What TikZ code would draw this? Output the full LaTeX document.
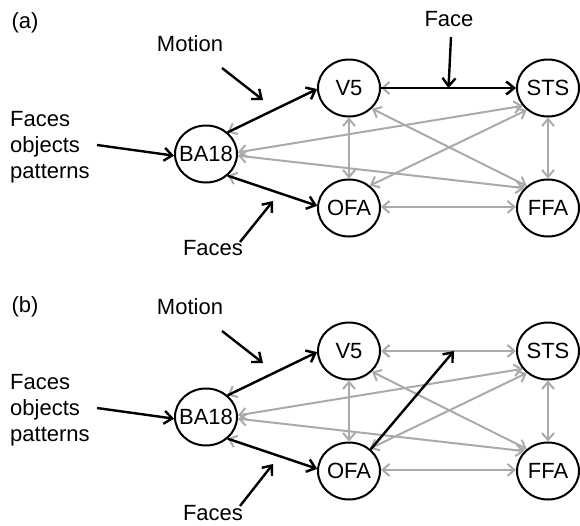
\documentclass[tikz,border=0pt]{standalone}
\usepackage{fontspec}
\setmainfont{Liberation Sans}
\usetikzlibrary{arrows.meta,shapes.geometric,calc}
\definecolor{linegray}{HTML}{AAAAAA}
\begin{document}
\begin{tikzpicture}[x=1pt,y=-1pt,
  every node/.style={font=\fontsize{22}{26}\selectfont},
  region/.style={ellipse,draw=black,line width=2pt,fill=white,minimum width=62pt,minimum height=57pt,inner sep=0pt},
  graylink/.style={draw=linegray,line width=2pt,{Straight Barb[length=7pt,width=12pt]}-{Straight Barb[length=7pt,width=12pt]}},
  blacklink/.style={draw=black,line width=2.4pt,-{Straight Barb[length=8pt,width=13pt]}},
  lbl/.style={inner sep=0pt}]
\useasboundingbox (0,0) rectangle (580,525);

% ---------------- panel (a) ----------------
\node[region] (BA18a) at (206,154) {\makebox[0pt]{BA18}};
\node[region] (V5a) at (349,88) {\makebox[0pt]{V5}};
\node[region] (STSa) at (548,88) {\makebox[0pt]{STS}};
\node[region] (OFAa) at (349,208) {\makebox[0pt]{OFA}};
\node[region] (FFAa) at (548,208) {\makebox[0pt]{FFA}};

\node[lbl] (la) at (25,23) {(a)};
\node[lbl] (motiona) at (190,44) {Motion};
\node[lbl] (facea) at (449,19) {Face};
\node[lbl,anchor=west,align=left] (inputa) at (10,147) {Faces\\objects\\patterns};
\node[lbl] (facesa) at (213,248) {Faces};

\coordinate (ms_a) at (222,68);
\coordinate (mt_a) at (263,100);
\coordinate (fs_a) at (240,242);
\coordinate (ft_a) at (273,201);
\coordinate (is_a) at (97,145);
\coordinate (fcs_a) at (451,37);
\coordinate (fct_a) at ($(V5a.east)!0.5!(STSa.west)$);

\draw[graylink] (BA18a.45) -- (V5a.182);
\draw[graylink] (BA18a.-45) -- (OFAa.176);
\draw[graylink] (BA18a.3) -- (STSa.215);
\draw[graylink] (BA18a.-3) -- (FFAa.140);
\draw[graylink] (V5a.east) -- (STSa.west);
\draw[graylink] (V5a.south) -- (OFAa.north);
\draw[graylink] (STSa.south) -- (FFAa.north);
\draw[graylink] (OFAa.2) -- (FFAa.178);
\draw[graylink] (V5a.-42) -- (FFAa.134);
\draw[graylink] (OFAa.47) -- (STSa.226);

\draw[blacklink] (BA18a.45) -- (V5a.182);
\draw[blacklink] (BA18a.-45) -- (OFAa.176);
\draw[blacklink] (V5a.east) -- (STSa.west);
\draw[blacklink] (ms_a) -- (mt_a);
\draw[blacklink] (fs_a) -- (ft_a);
\draw[blacklink] (is_a) -- (BA18a.183);
\draw[blacklink] (fcs_a) -- (fct_a);

% ---------------- panel (b) ----------------
\node[region] (BA18b) at (206,417) {\makebox[0pt]{BA18}};
\node[region] (V5b) at (349,351) {\makebox[0pt]{V5}};
\node[region] (STSb) at (548,351) {\makebox[0pt]{STS}};
\node[region] (OFAb) at (349,471) {\makebox[0pt]{OFA}};
\node[region] (FFAb) at (548,471) {\makebox[0pt]{FFA}};

\node[lbl] (lb) at (25,307) {(b)};
\node[lbl] (motionb) at (190,307) {Motion};
\node[lbl,anchor=west,align=left] (inputb) at (10,410) {Faces\\objects\\patterns};
\node[lbl] (facesb) at (213,513) {Faces};

\coordinate (ms_b) at (222,331);
\coordinate (mt_b) at (263,363);
\coordinate (fs_b) at (240,506);
\coordinate (ft_b) at (273,464);
\coordinate (is_b) at (97,408);
\coordinate (ot_b) at ($(V5b.east)!0.54!(STSb.west)$);

\draw[graylink] (BA18b.45) -- (V5b.182);
\draw[graylink] (BA18b.-45) -- (OFAb.176);
\draw[graylink] (BA18b.3) -- (STSb.215);
\draw[graylink] (BA18b.-3) -- (FFAb.140);
\draw[graylink] (V5b.east) -- (STSb.west);
\draw[graylink] (V5b.south) -- (OFAb.north);
\draw[graylink] (STSb.south) -- (FFAb.north);
\draw[graylink] (OFAb.2) -- (FFAb.178);
\draw[graylink] (V5b.-42) -- (FFAb.134);
\draw[graylink] (OFAb.47) -- (STSb.226);

\draw[blacklink] (BA18b.45) -- (V5b.182);
\draw[blacklink] (BA18b.-45) -- (OFAb.176);
\draw[blacklink] (ms_b) -- (mt_b);
\draw[blacklink] (fs_b) -- (ft_b);
\draw[blacklink] (is_b) -- (BA18b.183);
\draw[blacklink] (OFAb.45) -- (ot_b);
\end{tikzpicture}
\end{document}
